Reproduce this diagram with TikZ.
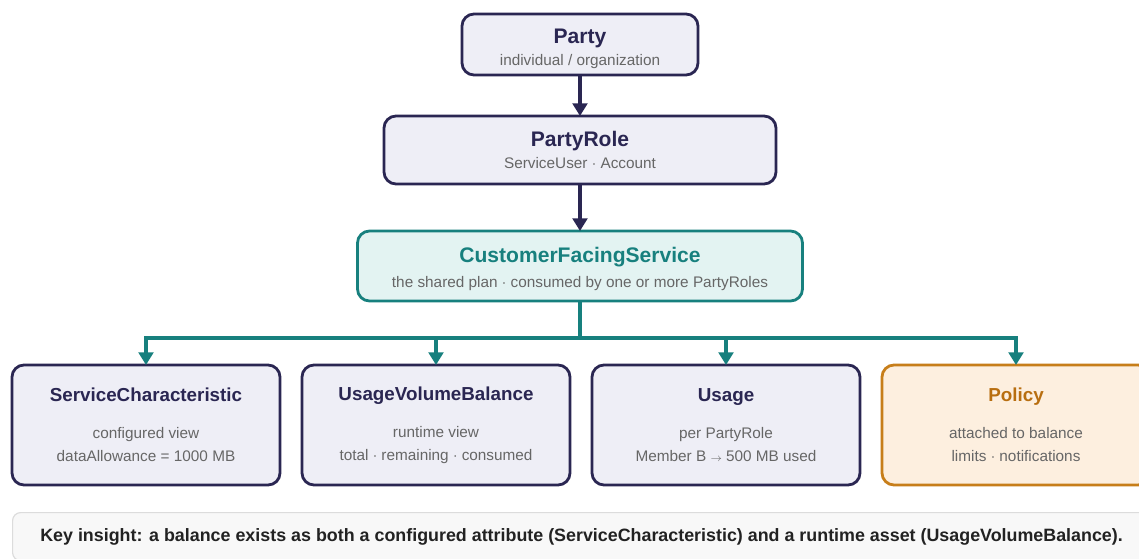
\documentclass[tikz,border=0pt]{standalone}
\usepackage{fontspec}
\setmainfont{Liberation Sans}
\usetikzlibrary{arrows.meta,positioning}
\definecolor{navy}{HTML}{2A2652}
\definecolor{lav}{HTML}{EEEEF6}
\definecolor{subgray}{HTML}{666666}
\definecolor{tealc}{HTML}{17807E}
\definecolor{tealf}{HTML}{E3F3F2}
\definecolor{orng}{HTML}{C77E1A}
\definecolor{orngf}{HTML}{FDEFDF}
\definecolor{orngt}{HTML}{B86E10}
\definecolor{keyf}{HTML}{F8F8F8}
\definecolor{keyd}{HTML}{DCDCDC}
\definecolor{keyt}{HTML}{222222}
\newcommand\hd[2]{{\fontsize{15.8}{18}\selectfont\bfseries\color{#1}#2}}
\newcommand\leafhd[2]{{\fontsize{14.1}{17}\selectfont\bfseries\color{#1}#2}}
\tikzset{
  ent/.style   ={draw=navy, fill=lav, rounded corners=9pt, line width=2.1pt,
                 inner sep=0pt, outer sep=0pt, align=center, text=subgray,
                 font=\fontsize{11.5}{17}\selectfont},
  svc/.style   ={ent, draw=tealc, fill=tealf, font=\fontsize{11.5}{19}\selectfont},
  leaf/.style  ={ent, minimum width=201pt, minimum height=90pt,
                 font=\fontsize{11.5}{17.25}\selectfont},
  polbox/.style={leaf, draw=orng, fill=orngf},
  keybox/.style={draw=keyd, fill=keyf, rounded corners=6pt, line width=0.9pt,
                 minimum width=853.5pt, minimum height=36pt, inner sep=0pt,
                 text=keyt, font=\fontsize{13.4}{15}\selectfont\bfseries},
  down/.style  ={-{Triangle[length=9.5pt,width=11pt]}, line width=2.7pt, navy},
  bus/.style   ={down, tealc},
}
\begin{document}
\begin{tikzpicture}[x=0.75pt, y=-0.75pt]
\useasboundingbox (0,0) rectangle (1139,558);
\node[ent, minimum width=177pt, minimum height=45.75pt,
  font=\fontsize{11.5}{16.5}\selectfont] (party) at (580,44.5)
  {\rule{0pt}{17pt}\hd{navy}{Party}\\ individual / organization};
\node[ent, minimum width=294pt, minimum height=51pt, below=30.75pt of party] (role)
  {\hd{navy}{PartyRole}\\ ServiceUser $\cdot$ Account};
\node[svc, minimum width=333.75pt, minimum height=52.5pt, below=35.25pt of role] (cfs)
  {\rule{0pt}{16pt}\hd{tealc}{CustomerFacingService}\\ the shared plan $\cdot$ consumed by one or more PartyRoles};
\node[leaf] (sc) at (146,425)
  {\leafhd{navy}{ServiceCharacteristic}\\[10.5pt] configured view\\ dataAllowance = 1000 MB};
\node[leaf, right=16.5pt of sc] (uvb)
  {\leafhd{navy}{UsageVolumeBalance}\\[10.5pt] runtime view\\ total $\cdot$ remaining $\cdot$ consumed};
\node[leaf, right=16.5pt of uvb] (usage)
  {\leafhd{navy}{Usage}\\[10.5pt] per PartyRole\\ Member B ${\scriptstyle\rightarrow}$ 500 MB used};
\node[polbox, right=16.5pt of usage] (pol)
  {\leafhd{orngt}{Policy}\\[10.5pt] attached to balance\\ limits $\cdot$ notifications};
\coordinate (bus) at (580,338);
\draw[down] (party) -- (role);
\draw[down] (role) -- (cfs);
\foreach \b in {sc,uvb,usage,pol}
  \draw[bus] (cfs.south) |- (\b.north |- bus) -- (\b.north);
\node[keybox, anchor=north west] (key) at (12,512)
  {Key insight: a balance exists as both a configured attribute (ServiceCharacteristic) and a runtime asset (UsageVolumeBalance).};
\end{tikzpicture}
\end{document}
